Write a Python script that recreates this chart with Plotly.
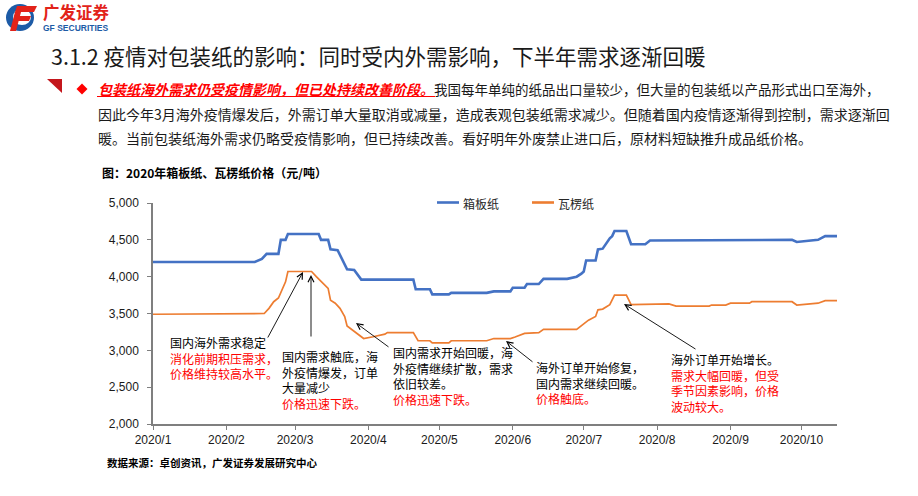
import plotly.graph_objects as go

# ---------------- data ----------------
xiangban = [  # 箱板纸 (date, price)
    ("2020-01-01", 4200), ("2020-02-13", 4200), ("2020-02-16", 4240), ("2020-02-18", 4310),
    ("2020-02-23", 4310), ("2020-02-24", 4500), ("2020-02-26", 4500), ("2020-02-27", 4580),
    ("2020-03-11", 4580), ("2020-03-12", 4500), ("2020-03-15", 4500), ("2020-03-16", 4370),
    ("2020-03-19", 4360), ("2020-03-23", 4100), ("2020-03-26", 4090), ("2020-03-29", 3960),
    ("2020-04-20", 3960), ("2020-04-21", 3830), ("2020-04-27", 3830), ("2020-04-28", 3760),
    ("2020-05-05", 3760), ("2020-05-06", 3780), ("2020-05-21", 3780), ("2020-05-24", 3800),
    ("2020-05-31", 3800), ("2020-06-01", 3850), ("2020-06-06", 3850), ("2020-06-07", 3900),
    ("2020-06-12", 3900), ("2020-06-14", 3970), ("2020-06-24", 3970), ("2020-06-28", 4000),
    ("2020-06-30", 4040), ("2020-07-01", 4070), ("2020-07-02", 4220), ("2020-07-06", 4220),
    ("2020-07-07", 4370), ("2020-07-09", 4380), ("2020-07-12", 4520), ("2020-07-13", 4550),
    ("2020-07-14", 4620), ("2020-07-19", 4620), ("2020-07-21", 4440), ("2020-07-27", 4440),
    ("2020-07-29", 4490), ("2020-09-09", 4490), ("2020-09-10", 4500), ("2020-09-27", 4500),
    ("2020-09-29", 4470), ("2020-10-08", 4500), ("2020-10-11", 4550), ("2020-10-16", 4550),
]
waleng = [  # 瓦楞纸 (date, price)
    ("2020-01-01", 3490), ("2020-02-13", 3490), ("2020-02-17", 3500), ("2020-02-19", 3570),
    ("2020-02-20", 3620), ("2020-02-21", 3660), ("2020-02-23", 3710), ("2020-02-25", 3860),
    ("2020-02-26", 3930), ("2020-02-27", 4070), ("2020-03-08", 4070), ("2020-03-10", 4000),
    ("2020-03-12", 3930), ("2020-03-15", 3840), ("2020-03-16", 3680), ("2020-03-18", 3640),
    ("2020-03-20", 3570), ("2020-03-22", 3460), ("2020-03-23", 3330), ("2020-03-25", 3280),
    ("2020-03-28", 3210), ("2020-03-30", 3160), ("2020-04-03", 3185), ("2020-04-08", 3220),
    ("2020-04-09", 3240), ("2020-04-20", 3240), ("2020-04-22", 3130), ("2020-04-27", 3130),
    ("2020-04-28", 3100), ("2020-05-05", 3100), ("2020-05-06", 3130), ("2020-05-21", 3130),
    ("2020-05-24", 3160), ("2020-05-31", 3160), ("2020-06-02", 3180), ("2020-06-06", 3230),
    ("2020-06-12", 3240), ("2020-06-14", 3285), ("2020-06-28", 3285), ("2020-06-30", 3340),
    ("2020-07-03", 3410), ("2020-07-06", 3460), ("2020-07-07", 3550), ("2020-07-09", 3560),
    ("2020-07-12", 3620), ("2020-07-14", 3750), ("2020-07-19", 3750), ("2020-07-21", 3620),
    ("2020-07-27", 3620), ("2020-07-29", 3630), ("2020-08-06", 3630), ("2020-08-09", 3600),
    ("2020-08-23", 3600), ("2020-08-24", 3615), ("2020-08-30", 3615), ("2020-09-01", 3640),
    ("2020-09-09", 3640), ("2020-09-10", 3660), ("2020-09-27", 3660), ("2020-09-29", 3615),
    ("2020-10-08", 3640), ("2020-10-11", 3675), ("2020-10-16", 3675),
]
month_ticks = ["2020-01-01", "2020-02-01", "2020-03-01", "2020-04-01", "2020-05-01",
               "2020-06-01", "2020-07-01", "2020-08-01", "2020-09-01", "2020-10-01"]
month_labels = ["2020/1", "2020/2", "2020/3", "2020/4", "2020/5",
                "2020/6", "2020/7", "2020/8", "2020/9", "2020/10"]
y_ticks = [2000, 2500, 3000, 3500, 4000, 4500, 5000]
series_names = ["箱板纸", "瓦楞纸"]
series_colors = ["#4472C4", "#ED7D31"]
series_widths = [2.6, 1.7]

# ---------------- layout geometry (pixels) ----------------
WIDTH, HEIGHT = 918, 496
L, R, T, B = 153, 837, 203, 424
W, H = R - L, B - T


def px(x):
    return (x - L) / W


def py(y):
    return (B - y) / H


def path(pts):
    return "M " + " L ".join(f"{px(x):.5f},{py(y):.5f}" for x, y in pts) + " Z"


CJK = "Noto Sans CJK SC"
NUM = "Liberation Sans, Arial"

fig = go.Figure()
for data, name, col, wd in zip([xiangban, waleng], series_names, series_colors, series_widths):
    fig.add_trace(go.Scatter(x=[d for d, _ in data], y=[v for _, v in data],
                             mode="lines", name=name, showlegend=False,
                             line=dict(color=col, width=wd)))

fig.update_layout(
    width=WIDTH, height=HEIGHT,
    margin=dict(l=L, r=WIDTH - R, t=T, b=HEIGHT - B, pad=0),
    paper_bgcolor="white", plot_bgcolor="white",
    font=dict(family=CJK, size=12, color="#000000"),
    showlegend=False,
    xaxis=dict(type="date", range=["2020-01-01", "2020-10-16"],
               tickvals=month_ticks, ticktext=month_labels,
               showline=True, linecolor="#7f7f7f", linewidth=1.5,
               ticks="outside", ticklen=4, tickcolor="#7f7f7f",
               showgrid=False, zeroline=False,
               tickfont=dict(family=NUM, size=12, color="#1a1a1a")),
    yaxis=dict(range=[2000, 5000], tickvals=y_ticks, tickformat=",",
               showline=True, linecolor="#7f7f7f", linewidth=1.5,
               ticks="outside", ticklen=4, tickcolor="#7f7f7f",
               ticklabelstandoff=6,
               showgrid=False, zeroline=False,
               tickfont=dict(family=NUM, size=12, color="#1a1a1a")),
)

shapes = []
# logo icon
shapes.append(dict(type="circle", xref="paper", yref="paper",
                   x0=px(6), x1=px(34), y0=py(31), y1=py(4),
                   fillcolor="#1d5ba6", line=dict(width=0)))
shapes.append(dict(type="circle", xref="paper", yref="paper",
                   x0=px(13), x1=px(31), y0=py(25), y1=py(9),
                   fillcolor="white", line=dict(width=0)))
shapes.append(dict(type="path", xref="paper", yref="paper",
                   path=path([(17, 6), (37, 6), (34, 12), (15, 12)]),
                   fillcolor="#e2231a", line=dict(width=0)))
shapes.append(dict(type="path", xref="paper", yref="paper",
                   path=path([(15, 12), (21, 12), (16, 31), (10, 31)]),
                   fillcolor="#e2231a", line=dict(width=0)))
shapes.append(dict(type="path", xref="paper", yref="paper",
                   path=path([(19, 16), (31, 16), (29, 21), (18, 21)]),
                   fillcolor="#e2231a", line=dict(width=0)))
# red corner triangle
shapes.append(dict(type="path", xref="paper", yref="paper",
                   path=path([(47, 79), (62, 79), (62, 93)]),
                   fillcolor="#c4161c", line=dict(width=0)))
# diamond bullet
shapes.append(dict(type="path", xref="paper", yref="paper",
                   path=path([(82, 83.5), (87.5, 89), (82, 94.5), (76.5, 89)]),
                   fillcolor="#ff0000", line=dict(width=0)))
# underline of the red lead sentence
shapes.append(dict(type="line", xref="paper", yref="paper",
                   x0=px(97), x1=px(435), y0=py(96.5), y1=py(96.5),
                   line=dict(color="#ff0000", width=1)))
# legend samples
legend_pos = [(437, 459), (532, 554)]
for (x0, x1), col in zip(legend_pos, series_colors):
    shapes.append(dict(type="line", xref="paper", yref="paper",
                       x0=px(x0), x1=px(x1), y0=py(202.5), y1=py(202.5),
                       line=dict(color=col, width=2.6)))
fig.update_layout(shapes=shapes)

ann = []


def text(x, y, s, size=12, color="#000000", family=CJK, anchor="left"):
    ann.append(dict(xref="paper", yref="paper", x=px(x), y=py(y), text=s,
                    showarrow=False, xanchor=anchor, yanchor="middle", align="left",
                    font=dict(family=family, size=size, color=color)))


# header
text(41, 11.5, "<b>广发证券</b>", size=16.5, color="#e2231a")
text(41, 28.5, "<b>GF SECURITIES</b>", size=8.5, color="#1d5ba6", family="Liberation Sans, Arial")
text(49, 55, "3.1.2 疫情对包装纸的影响：同时受内外需影响，下半年需求逐渐回暖", size=21.5, color="#1a1a1a")

# paragraph
text(96, 89, "<span style='color:#ff0000'><b><i>包装纸海外需求仍受疫情影响，但已处持续改善阶段。</i></b></span>"
     "<span style='font-size:13.5px'>我国每年单纯的纸品出口量较少，但大量的包装纸以产品形式出口至海外，</span>",
     size=14, color="#1a1a1a")
text(96, 113.5, "因此今年3月海外疫情爆发后，外需订单大量取消或减量，造成表观包装纸需求减少。但随着国内疫情逐渐得到控制，需求逐渐回",
     size=14, color="#1a1a1a")
text(96, 138, "暖。当前包装纸海外需求仍略受疫情影响，但已持续改善。看好明年外废禁止进口后，原材料短缺推升成品纸价格。",
     size=14, color="#1a1a1a")

# chart title, legend labels and source
text(100, 172, "<b>图：2020年箱板纸、瓦楞纸价格（元/吨）</b>", size=12, color="#000000")
for (x0, x1), name in zip(legend_pos, series_names):
    text(x1 + 2, 203, name, size=12, color="#262626")
text(105, 462, "<b>数据来源：卓创资讯，广发证券发展研究中心</b>", size=10.5, color="#000000")

# callout texts
BLACK, RED = "#000000", "#ff0000"
LINE_H = 15.6
callouts = [
    (168, 342, [("国内海外需求稳定", BLACK), ("消化前期积压需求，", RED), ("价格维持较高水平。", RED)]),
    (280, 357, [("国内需求触底，海", BLACK), ("外疫情爆发，订单", BLACK), ("大量减少", BLACK), ("价格迅速下跌。", RED)]),
    (391, 353, [("国内需求开始回暖，海", BLACK), ("外疫情继续扩散，需求", BLACK), ("依旧较差。", BLACK), ("价格迅速下跌。", RED)]),
    (534, 367, [("海外订单开始修复，", BLACK), ("国内需求继续回暖。", BLACK), ("价格触底。", RED)]),
    (669, 360, [("海外订单开始增长。", BLACK), ("需求大幅回暖，但受", RED), ("季节因素影响，价格", RED), ("波动较大。", RED)]),
]
for x0, y0, lines in callouts:
    body = "<br>".join(f"<span style='color:{c}'>{s}</span>" for s, c in lines)
    text(x0, y0 + (len(lines) - 1) * LINE_H / 2, body, size=12)

# arrows: (tip_x, tip_y, tail_x, tail_y)
arrows = [(303, 272, 267, 339), (311, 275, 311, 338), (356, 323, 390, 348),
          (506, 341, 534, 363), (624, 304, 697, 350)]
for tx, ty, sx, sy in arrows:
    ann.append(dict(xref="paper", yref="paper", x=px(tx), y=py(ty), text="",
                    showarrow=True, ax=sx - tx, ay=sy - ty, axref="pixel", ayref="pixel",
                    arrowhead=5, arrowsize=1.3, arrowwidth=0.9, arrowcolor="#000000",
                    standoff=0, startstandoff=0))

fig.update_layout(annotations=ann)
fig.write_html("out.html", config={"displayModeBar": False},
               post_script="document.body.style.margin='0px';document.body.style.padding='0px';")
